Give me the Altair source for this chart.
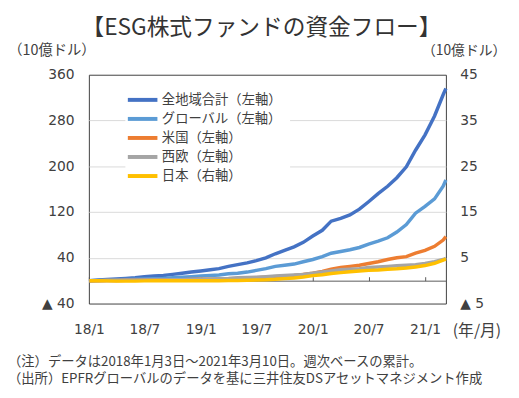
import altair as alt
import pandas as pd

# ---- data ----
month_starts = pd.date_range("2018-01-01", "2021-03-01", freq="MS")
dates = [d.strftime("%Y-%m-%dT00:00:00") for d in month_starts]
dates[0] = "2018-01-03T00:00:00"
dates.append("2021-03-10T00:00:00")

series_names = ["全地域合計（左軸）", "グローバル（左軸）", "米国（左軸）", "西欧（左軸）", "日本（右軸）"]
series_colors = ["#4472C4", "#5B9BD5", "#ED7D31", "#A5A5A5", "#FFC000"]

total = [0, 1, 2, 3, 4, 5, 7, 8, 9, 11, 13, 15,
         17, 19, 21, 25, 28, 31, 35, 40, 47, 53, 59, 67,
         78, 88, 104, 109, 115, 125, 138, 152, 165, 180, 199, 228,
         255, 288, 325, 336]
global_ = [0, 0.5, 1, 1.5, 2, 2.5, 3, 3.5, 4, 5, 6, 7,
           8, 9, 10, 12, 13, 15, 18, 21, 25, 27, 29, 33,
           37, 42, 48, 51, 54, 58, 64, 69, 75, 85, 98, 118,
           130, 143, 165, 176]
us = [0, 0, 0.2, 0.4, 0.6, 0.8, 1, 1.2, 1.4, 1.6, 1.8, 2,
      2.3, 2.6, 3, 3.5, 4, 4.5, 5, 6, 7, 8, 9, 11,
      13, 16, 20, 23, 25, 27, 30, 33, 37, 40, 42, 48,
      53, 60, 71, 77]
europe = [0, 0, 0.2, 0.4, 0.6, 0.8, 1, 1.2, 1.4, 1.6, 1.8, 2,
          2.5, 3, 3.5, 4, 5, 5.5, 6, 7, 8, 9, 10, 11,
          13, 15, 17, 19, 20, 21, 23, 24, 25, 26, 27, 28,
          30, 33, 37, 39]
japan = [0, 0, -0.05, -0.1, -0.1, -0.1, -0.05, 0, 0, 0, 0, 0,
         0, 0, 0, 0.02, 0.05, 0.1, 0.15, 0.2, 0.3, 0.45, 0.6, 0.8,
         1.1, 1.3, 1.55, 1.75, 1.95, 2.1, 2.25, 2.35, 2.5, 2.6, 2.75, 3.0,
         3.3, 3.8, 4.5, 4.7]

left_ticks = [-40, 40, 120, 200, 280, 360]
right_ticks = [-5, 5, 15, 25, 35, 45]

title_text = "【ESG株式ファンドの資金フロー】"
unit_text = "（10億ドル）"
xunit_text = "(年/月)"
notes = ["（注）データは2018年1月3日～2021年3月10日。週次ベースの累計。",
         "（出所）EPFRグローバルのデータを基に三井住友DSアセットマネジメント作成"]

# ---- tables ----
rows = []
for name, vals in zip(series_names[:4], [total, global_, us, europe]):
    for d, v in zip(dates, vals):
        rows.append({"date": d, "series": name, "value": v})
left_df = pd.DataFrame(rows)
jp_df = pd.DataFrame({"date": dates, "series": series_names[4], "value": japan})

JP = "Noto Sans CJK JP"
NUM = "DejaVu Sans"
TXT = "#404040"
W, H = 362, 232

color = alt.Color(
    "series:N",
    scale=alt.Scale(domain=series_names, range=series_colors),
    sort=series_names,
    legend=alt.Legend(
        orient="none", legendX=37, legendY=8, title=None,
        symbolType="M-2,0H2", symbolSize=225, symbolStrokeWidth=4,
        labelFont=JP, labelFontSize=13.5, labelColor=TXT,
        fillColor="white", padding=8, rowPadding=1.3, labelOffset=10,
    ),
)

x_scale = alt.Scale(
    domain=[alt.DateTime(year=2018, month=1, date=1), alt.DateTime(year=2021, month=3, date=10)],
    nice=False,
)
six_months = alt.TimeIntervalStep(interval="month", step=6)
label_expr = "datum.value < 0 ? '▲ ' + abs(datum.value) : datum.label"

left = alt.Chart(left_df).mark_line(strokeWidth=3.5).encode(
    x=alt.X("date:T", scale=x_scale, axis=alt.Axis(
        orient="top", offset=-H * 360 / 400, labels=False, ticks=True, tickSize=4,
        tickColor="#595959", domain=True, domainColor="#595959", grid=False,
        title=None, tickCount=six_months)),
    y=alt.Y("value:Q", scale=alt.Scale(domain=[-40, 360], nice=False, zero=False),
            axis=alt.Axis(
                orient="left", values=left_ticks, labelExpr=label_expr,
                grid=True, gridColor="#d9d9d9",
                gridOpacity={"condition": {"test": "datum.value == -40 || datum.value == 360", "value": 0}, "value": 1},
                ticks=False, domain=False, labelPadding=15,
                labelFont=NUM, labelFontSize=14, labelColor=TXT,
                title=unit_text, titleAngle=0, titleX=-38, titleY=-24,
                titleAlign="center", titleBaseline="middle",
                titleFont=JP, titleFontSize=14.5, titleFontWeight="normal", titleColor=TXT)),
    color=color,
)

jp = alt.Chart(jp_df).mark_line(strokeWidth=3.5).encode(
    x=alt.X("date:T", scale=x_scale, axis=alt.Axis(
        orient="bottom", format="%y/%-m", tickCount=six_months,
        labelFont=NUM, labelFontSize=14, labelColor=TXT,
        ticks=False, domain=False, grid=False, labelPadding=19,
        labelFlush=False, labelOverlap=False,
        title=xunit_text, titleX=393, titleY=27, titleAlign="center",
        titleBaseline="middle", titleAngle=0,
        titleFont=JP, titleFontSize=16, titleFontWeight="normal", titleColor=TXT)),
    y=alt.Y("value:Q", scale=alt.Scale(domain=[-5, 45], nice=False, zero=False),
            axis=alt.Axis(
                orient="right", values=right_ticks, labelExpr=label_expr,
                grid=False, ticks=False, domain=False, labelPadding=14,
                labelFont=NUM, labelFontSize=14, labelColor=TXT,
                title=unit_text, titleAngle=0, titleX=18, titleY=-24,
                titleAlign="center", titleBaseline="middle",
                titleFont=JP, titleFontSize=14, titleFontWeight="normal", titleColor=TXT)),
    color=color,
)

note1 = alt.Chart(pd.DataFrame({"note": [notes[0]]})).mark_text(
    align="left", baseline="middle", font=JP, fontSize=13.5, color=TXT
).encode(text="note:N", x=alt.value(-82), y=alt.value(291))
note2 = alt.Chart(pd.DataFrame({"note": [notes[1]]})).mark_text(
    align="left", baseline="middle", font=JP, fontSize=13.5, color=TXT
).encode(text="note:N", x=alt.value(-82), y=alt.value(309))

chart = alt.layer(left, jp, note1, note2).resolve_scale(
    y="independent"
).resolve_axis(
    x="independent", y="independent"
).properties(
    width=W, height=H,
    padding={"left": 82, "top": 65, "right": 66, "bottom": 85},
    autosize=alt.AutoSizeParams(type="none"),
    title=alt.TitleParams(title_text, font=JP, fontSize=23, fontWeight="normal",
                          color="#333333", anchor="middle", dx=-6, dy=1),
).configure_view(stroke="#404040", strokeWidth=1)

chart.save("out.html", embed_options={"renderer": "svg", "actions": False})
